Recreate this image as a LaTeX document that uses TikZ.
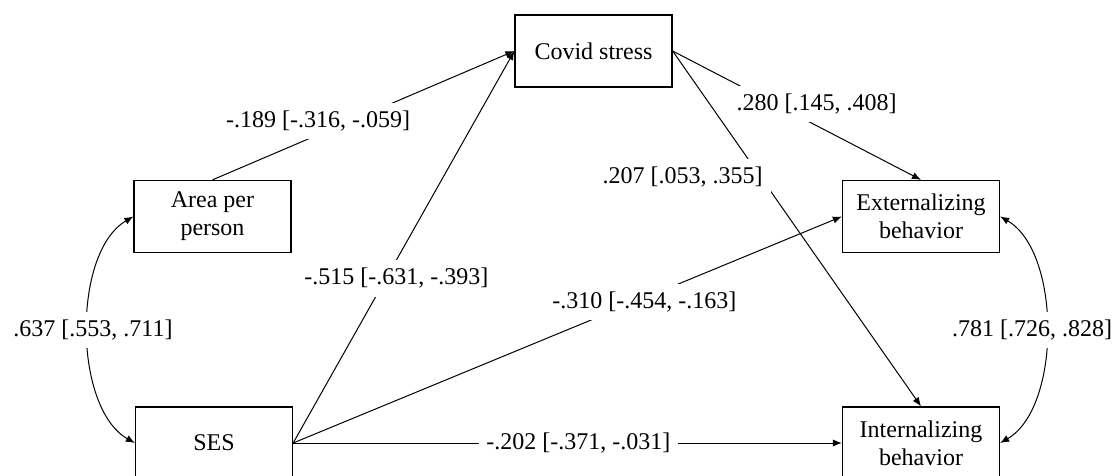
\documentclass[tikz,border=0pt]{standalone}
\usepackage{fontspec}
\setmainfont{Liberation Serif}
\usetikzlibrary{arrows.meta}
\usetikzlibrary{positioning}

\begin{document}
\begin{tikzpicture}[x=0.5pt,y=-0.5pt,
        font=\fontsize{12}{14}\selectfont,
        var/.style={draw,line width=0.65pt,minimum width=78.5pt,minimum height=36pt,align=center,inner sep=2pt},
        coef/.style={fill=white,inner sep=4pt},
        path/.style={line width=0.5pt,-{Latex[length=4.5pt,width=3.6pt]}},
        cov/.style={line width=0.5pt,{Latex[length=4.5pt,width=3.6pt]}-{Latex[length=4.5pt,width=3.6pt]}}]
            \useasboundingbox (0,0) rectangle (1120,476);

            \node[var] (covid) at (593.5,51) {Covid stress};
            \node[var] (area) at (212.5,216.5) {Area per\\person};
            \node[var] (ses) at (214,443) {SES};
            \node[var] (ext) at (921,216.5) {Externalizing\\behavior};
            \node[var] (int) at (921,443) {Internalizing\\behavior};

            \draw[path] (area.north) -- node[coef,pos=0.35,yshift=6.8pt] {-.189 [-.316, -.059]} (covid.west);
            \draw[path] (ses.east) -- node[coef,pos=0.42,xshift=5.2pt] {-.515 [-.631, -.393]} (covid.west);
            \draw[path] (ses.east) -- node[coef,pos=0.64,yshift=-2pt] {-.310 [-.454, -.163]} (ext.west);
            \draw[path] (ses.east) -- node[coef,pos=0.52] {-.202 [-.371, -.031]} (int.west);
            \draw[path] (covid.east) -- node[coef,pos=0.58,yshift=10.8pt] {.280 [.145, .408]} (ext.north);
            \draw[path] (covid.east) -- node[coef,pos=0.354,xshift=-39pt] {.207 [.053, .355]} (int.north);

            \draw[cov] (area.west) to[bend right=60,looseness=0.8] node[coef,xshift=2.5pt] {.637 [.553, .711]} (ses.west);
            \draw[cov] (ext.east) to[bend left=60,looseness=0.8] node[coef,xshift=-7pt] {.781 [.726, .828]} (int.east);
        \end{tikzpicture}
\end{document}
